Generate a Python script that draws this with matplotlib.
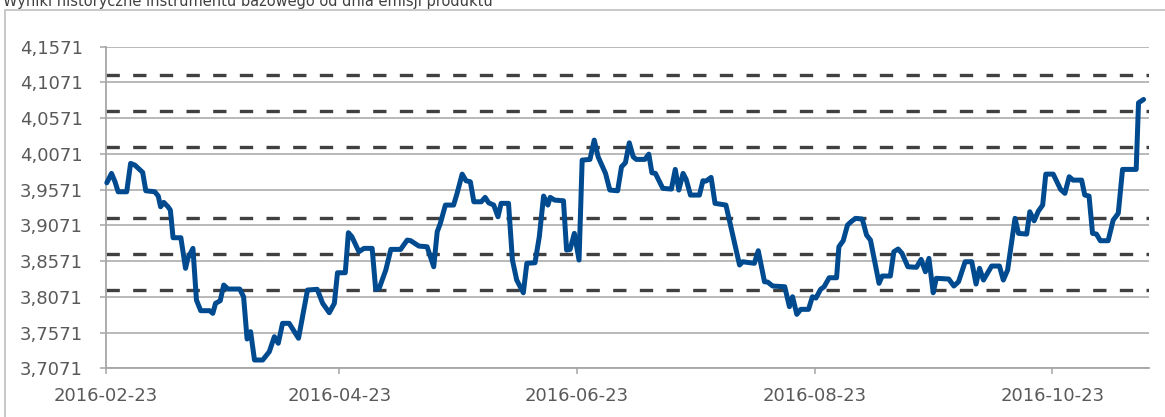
import pandas as pd
import matplotlib
matplotlib.use("Agg")
import matplotlib.pyplot as plt
import matplotlib.dates as mdates
from matplotlib.patches import Rectangle

# dni od daty startowej i kurs
start_date = "2016-02-23"
end_date = "2016-11-16"
day_offset = [0.3, 1.5, 2.4, 3.2, 5.4, 6.4, 7.5, 9.5, 10.3, 12.6, 13.5, 14.1, 14.9, 16.0, 16.6,
              17.3, 19.3, 20.5, 21.1, 22.4, 23.3, 24.4, 26.7, 27.5, 28.2, 29.4, 30.3, 31.4, 34.4,
              35.4, 36.3, 37.2, 38.2, 40.3, 42.0, 43.3, 44.3, 45.4, 47.1, 49.5, 50.7, 51.8, 54.3,
              55.7, 57.4, 58.7, 59.5, 61.5, 62.3, 63.2, 65.0, 66.3, 68.4, 69.3, 70.2, 71.9, 73.2,
              75.7, 77.4, 78.3, 80.4, 82.5, 84.2, 85.1, 85.9, 87.2, 89.3, 90.2, 91.5, 92.5, 93.6,
              94.5, 96.4, 97.4, 98.3, 99.6, 100.7, 101.5, 103.4, 104.4, 105.5, 107.2, 108.1, 110.2,
              111.3, 112.4, 113.5, 114.1, 115.2, 117.5, 118.3, 119.2, 120.3, 121.5, 122.3, 124.3,
              125.4, 126.4, 128.3, 129.4, 131.4, 132.4, 133.4, 134.4, 135.4, 136.2, 138.4, 139.4,
              140.2, 141.1, 143.0, 145.2, 146.2, 147.1, 148.2, 149.0, 150.1, 152.4, 153.3, 154.1,
              155.4, 156.4, 159.2, 162.7, 163.5, 166.5, 167.5, 169.1, 169.9, 171.2, 174.3, 175.5,
              176.3, 177.4, 178.4, 180.4, 181.4, 182.3, 183.5, 184.4, 185.7, 187.6, 188.2, 189.3,
              190.4, 191.6, 192.5, 194.2, 195.3, 196.3, 198.5, 199.3, 201.4, 202.3, 203.4, 204.4,
              205.9, 208.1, 209.3, 210.4, 211.3, 212.4, 213.2, 216.4, 217.7, 218.9, 220.6, 222.3,
              223.4, 224.3, 225.3, 227.4, 229.4, 230.4, 231.5, 233.4, 234.3, 236.4, 237.2, 238.3,
              239.4, 240.5, 241.3, 243.2, 245.1, 246.2, 247.3, 248.3, 250.5, 251.3, 252.4, 253.3,
              254.3, 255.3, 257.3, 258.6, 259.9, 261.0, 264.5, 265.1, 266.4]
price = [3.9667, 3.9798, 3.9681, 3.9541, 3.9541, 3.9938, 3.9914, 3.9812, 3.9555, 3.9541, 3.9481,
         3.9331, 3.9393, 3.9331, 3.9285, 3.8898, 3.8898, 3.8470, 3.8610, 3.8749, 3.8026, 3.7877,
         3.7877, 3.7840, 3.7980, 3.8016, 3.8236, 3.8180, 3.8180, 3.8072, 3.7481, 3.7583, 3.7187,
         3.7187, 3.7303, 3.7513, 3.7421, 3.7700, 3.7700, 3.7491, 3.7840, 3.8166, 3.8176, 3.7980,
         3.7849, 3.7980, 3.8408, 3.8408, 3.8968, 3.8912, 3.8702, 3.8749, 3.8749, 3.8176, 3.8190,
         3.8446, 3.8735, 3.8735, 3.8865, 3.8856, 3.8781, 3.8772, 3.8492, 3.8982, 3.9099, 3.9355,
         3.9355, 3.9519, 3.9788, 3.9695, 3.9681, 3.9401, 3.9401, 3.9463, 3.9387, 3.9355, 3.9191,
         3.9379, 3.9379, 3.8586, 3.8306, 3.8128, 3.8540, 3.8548, 3.8912, 3.9481, 3.9355, 3.9463,
         3.9425, 3.9415, 3.8726, 3.8735, 3.8959, 3.8586, 3.9984, 3.9994, 4.0264, 4.0030, 3.9798,
         3.9565, 3.9555, 3.9891, 3.9947, 4.0226, 4.0030, 3.9994, 3.9994, 4.0068, 3.9807, 3.9798,
         3.9589, 3.9579, 3.9854, 3.9565, 3.9798, 3.9714, 3.9495, 3.9495, 3.9695, 3.9691, 3.9742,
         3.9379, 3.9355, 3.8516, 3.8562, 3.8540, 3.8716, 3.8282, 3.8278, 3.8222, 3.8212, 3.7933,
         3.8072, 3.7826, 3.7896, 3.7896, 3.8072, 3.8054, 3.8176, 3.8212, 3.8338, 3.8338, 3.8772,
         3.8856, 3.9075, 3.9135, 3.9169, 3.9159, 3.8935, 3.8865, 3.8260, 3.8362, 3.8362, 3.8702,
         3.8740, 3.8679, 3.8492, 3.8484, 3.8595, 3.8422, 3.8609, 3.8128, 3.8330, 3.8320, 3.8222,
         3.8282, 3.8562, 3.8562, 3.8250, 3.8470, 3.8306, 3.8502, 3.8502, 3.8306, 3.8446, 3.9169,
         3.8959, 3.8949, 3.9261, 3.9135, 3.9271, 3.9355, 3.9788, 3.9788, 3.9574, 3.9519, 3.9751,
         3.9704, 3.9704, 3.9495, 3.9481, 3.8959, 3.8949, 3.8856, 3.8856, 3.9145, 3.9239, 3.9854,
         3.9854, 4.0786, 4.0833]

y_ticks = [3.7071, 3.7571, 3.8071, 3.8571, 3.9071, 3.9571, 4.0071, 4.0571, 4.1071, 4.1571]
barrier_levels = [3.8171, 3.8671, 3.9171, 4.0171, 4.0671, 4.1171]
x_ticks = ["2016-02-23", "2016-04-23", "2016-06-23", "2016-08-23", "2016-10-23"]
title = "Wyniki historyczne instrumentu bazowego od dnia emisji produktu"

dates = pd.Timestamp(start_date) + pd.to_timedelta(day_offset, unit="D")

fig = plt.figure(figsize=(11.65, 4.17), dpi=100)
ax = fig.add_axes([0.0907, 0.1168, 0.8956, 0.7712])

grey_txt = "#595959"

# ramka wokol wykresu
fig.patches.append(Rectangle((5 / 1165, -0.05), 1.2, 1 - 10 / 417 + 0.05, transform=fig.transFigure,
                             fill=False, edgecolor="#bfbfbf", linewidth=1.2))
fig.text(3 / 1165, 1 - 6 / 417, title, fontsize=10.5, color="#404040", va="baseline", ha="left")

for y in y_ticks:
    ax.axhline(y, color="#a6a6a6", linewidth=1.1, zorder=1)
for y in barrier_levels:
    ax.axhline(y, color="#404040", linewidth=2.4, dashes=(4, 4), zorder=2)

ax.plot(dates, price, color="#004a8f", linewidth=3.6, solid_joinstyle="round",
        solid_capstyle="round", zorder=3, clip_on=False)

ax.set_ylim(y_ticks[0], y_ticks[-1])
ax.set_xlim(pd.Timestamp(start_date), pd.Timestamp(end_date) + pd.Timedelta(days=0.8))
ax.set_yticks(y_ticks)
ax.set_yticklabels([f"{v:.4f}".replace(".", ",") for v in y_ticks])
ax.set_xticks([pd.Timestamp(d) for d in x_ticks])
ax.xaxis.set_major_formatter(mdates.DateFormatter("%Y-%m-%d"))

for s in ["top", "right"]:
    ax.spines[s].set_visible(False)
for s in ["left", "bottom"]:
    ax.spines[s].set_color("#a6a6a6")
    ax.spines[s].set_linewidth(1.3)

ax.tick_params(axis="y", length=4.5, width=1.1, color="#a6a6a6", pad=12,
               labelsize=13, labelcolor=grey_txt)
ax.tick_params(axis="x", length=4.5, width=1.1, color="#a6a6a6", pad=9,
               labelsize=13, labelcolor=grey_txt)
ax.set_facecolor("white")

fig.savefig("out.png", dpi=100)
